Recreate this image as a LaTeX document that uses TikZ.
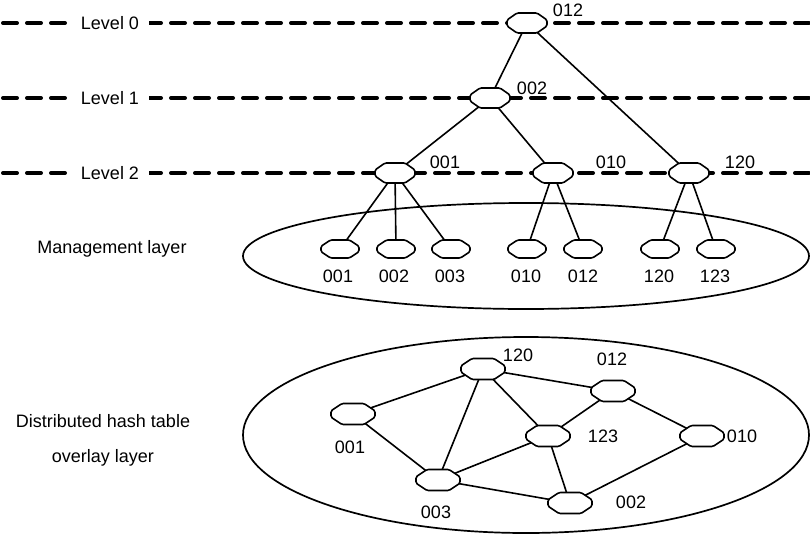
\documentclass[tikz,border=0pt]{standalone}
\usepackage{fontspec}
\setmainfont{Liberation Sans}
\usetikzlibrary{shapes.geometric,calc}
\newcommand\drawoct[3]{%
  \draw[octline] ($(#1.center)+(-0.5*#2,-#3)$) -- ($(#1.center)+(0.5*#2,-#3)$)
      -- ($(#1.center)+(#2,-0.3*#3)$) -- ($(#1.center)+(#2,0.3*#3)$)
      -- ($(#1.center)+(0.5*#2,#3)$) -- ($(#1.center)+(-0.5*#2,#3)$)
      -- ($(#1.center)+(-#2,0.3*#3)$) -- ($(#1.center)+(-#2,-0.3*#3)$) -- cycle;}
\begin{document}
\begin{tikzpicture}[x=1pt,y=-1pt,
  octline/.style={draw, fill=white, line width=1.6pt, line join=round, rounded corners=1.5pt},
  hnode/.style={ellipse, minimum width=40pt, minimum height=20pt, inner sep=0pt},
  leaf/.style={ellipse, minimum width=38pt, minimum height=18pt, inner sep=0pt},
  dht/.style={ellipse, minimum width=44pt, minimum height=21pt, inner sep=0pt},
  edge/.style={line width=1.6pt},
  levelline/.style={line width=4pt, line cap=round, dash pattern=on 14pt off 10pt},
  lbl/.style={font=\fontsize{18}{21}\selectfont, inner sep=0pt},
  lvl/.style={lbl, fill=white, inner xsep=10pt, inner ysep=2pt},
  layer/.style={line width=1.7pt}]
\useasboundingbox (0,0) rectangle (810,538);

% level lines
\coordinate (l0a) at (3,23);  \coordinate (l0b) at (812,23);
\coordinate (l1a) at (3,98);  \coordinate (l1b) at (812,98);
\coordinate (l2a) at (3,173); \coordinate (l2b) at (812,173);
\draw[levelline] (l0a) -- (l0b);
\draw[levelline] (l1a) -- (l1b);
\draw[levelline] (l2a) -- (l2b);
\node[lvl] (L0) at (110,23) {Level 0};
\node[lvl] (L1) at (110,98) {Level 1};
\node[lvl] (L2) at (110,173) {Level 2};

% layers
\draw[layer] (526,256) ellipse [x radius=283, y radius=53];
\draw[layer] (526,435) ellipse [x radius=283, y radius=98];

\node[lbl] (mgmt) at (112,249) {Management layer};
\node[lbl, align=center, font=\fontsize{18}{35}\selectfont] (dhtl) at (103,440) {Distributed hash table\\overlay layer};

% hierarchy
\node[hnode] (h012) at (527,23) {};
\node[hnode] (h002) at (490,98) {};
\node[hnode] (h001) at (395,173) {};
\node[hnode] (h010) at (553,173) {};
\node[hnode] (h120) at (689,173) {};
\node[lbl] (t012) at (568,10) {012};
\node[lbl] (t002) at (532,88) {002};
\node[lbl] (t001) at (445,162) {001};
\node[lbl] (t010) at (611,162) {010};
\node[lbl] (t120) at (740,162) {120};

% management leaves
\node[leaf] (m001) at (340,249) {};
\node[leaf] (m002) at (396,249) {};
\node[leaf] (m003) at (451,249) {};
\node[leaf] (m010) at (527,249) {};
\node[leaf] (m012) at (583,249) {};
\node[leaf] (m120) at (660,249) {};
\node[leaf] (m123) at (716,249) {};
\node[lbl] (u001) at (338,276) {001};
\node[lbl] (u002) at (394,276) {002};
\node[lbl] (u003) at (450,276) {003};
\node[lbl] (u010) at (526,276) {010};
\node[lbl] (u012) at (583,276) {012};
\node[lbl] (u120) at (659,276) {120};
\node[lbl] (u123) at (715,276) {123};

\draw[edge] (h012) -- (h002);
\draw[edge] (h012) -- (h120);
\draw[edge] (h002) -- (h001);
\draw[edge] (h002) -- (h010);
\draw[edge] (h001) -- (m001);
\draw[edge] (h001) -- (m002);
\draw[edge] (h001) -- (m003);
\draw[edge] (h010) -- (m010);
\draw[edge] (h010) -- (m012);
\draw[edge] (h120) -- (m120);
\draw[edge] (h120) -- (m123);

\foreach \n in {h012,h002,h001,h010,h120} {\drawoct{\n}{20}{10}}
\foreach \n in {m001,m002,m003,m010,m012,m120,m123} {\drawoct{\n}{19}{9}}

% DHT overlay
\node[dht] (d120) at (483,369) {};
\node[dht] (d012) at (613,391) {};
\node[dht] (d001) at (353,414) {};
\node[dht] (d123) at (548,436) {};
\node[dht] (d010) at (702,436) {};
\node[dht] (d003) at (438,480) {};
\node[dht] (d002) at (570,503) {};
\node[lbl] (e120) at (518,355) {120};
\node[lbl] (e012) at (612,359) {012};
\node[lbl] (e001) at (350,447) {001};
\node[lbl] (e123) at (603,436) {123};
\node[lbl] (e010) at (742,436) {010};
\node[lbl] (e003) at (436,512) {003};
\node[lbl] (e002) at (631,502) {002};

\draw[edge] (d120) -- (d001);
\draw[edge] (d120) -- (d003);
\draw[edge] (d120) -- (d123);
\draw[edge] (d120) -- (d012);
\draw[edge] (d012) -- (d123);
\draw[edge] (d012) -- (d010);
\draw[edge] (d001) -- (d003);
\draw[edge] (d003) -- (d123);
\draw[edge] (d003) -- (d002);
\draw[edge] (d123) -- (d002);
\draw[edge] (d010) -- (d002);

\foreach \n in {d120,d012,d001,d123,d010,d003,d002} {\drawoct{\n}{22}{10.5}}
\end{tikzpicture}
\end{document}
